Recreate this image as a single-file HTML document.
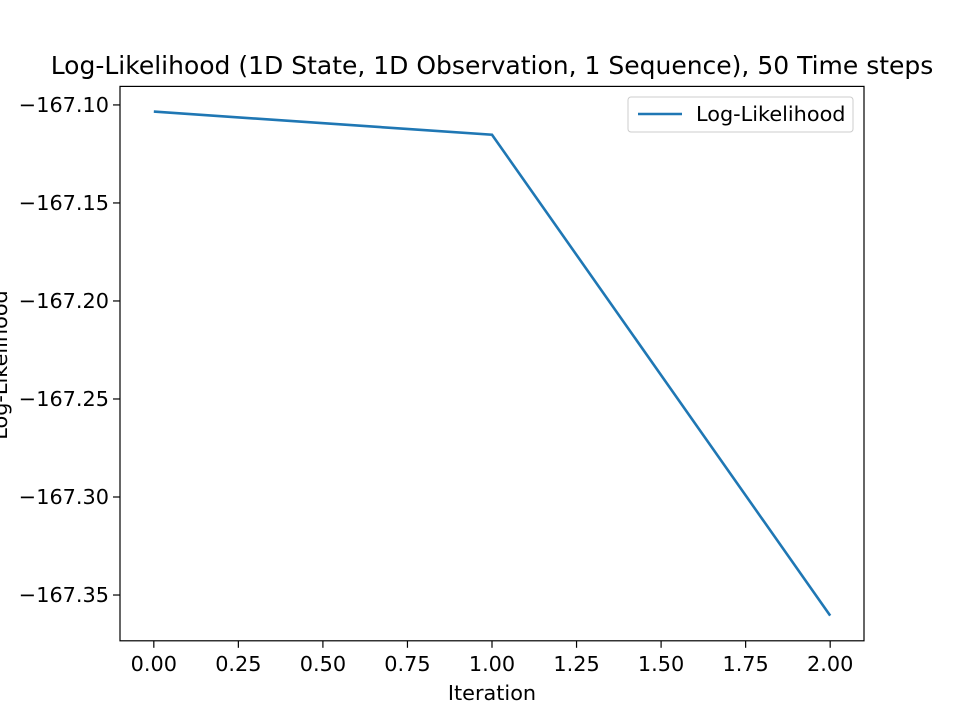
<!DOCTYPE html>
<html><head><meta charset="utf-8"><style>
body{margin:0;background:#fff}
svg{display:block;font-family:"DejaVu Sans","Liberation Sans",sans-serif}
</style></head><body>
<svg id="chart" width="960" height="720">
<rect width="960" height="720" fill="#fff"/>
<text x="492" y="74" font-size="25" text-anchor="middle">Log-Likelihood (1D State, 1D Observation, 1 Sequence), 50 Time steps</text>
<text transform="translate(7,365) rotate(-90)" font-size="20.8" text-anchor="middle">Log-Likelihood</text>
<text x="492" y="700" font-size="20.8" text-anchor="middle">Iteration</text>
<g id="ticks"></g>
<path id="line" fill="none" stroke="#1f77b4" stroke-width="2.6"/>
<rect x="120" y="86.4" width="744" height="554.4" fill="none" stroke="#000" stroke-width="1.2"/>
<g>
<rect x="628" y="97" width="225" height="35" rx="3" fill="#fff" fill-opacity="0.8" stroke="#ccc"/>
<line x1="638" y1="114" x2="682" y2="114" stroke="#1f77b4" stroke-width="2.6"/>
<text x="696" y="121" font-size="20.8">Log-Likelihood</text>
</g>
</svg>
<script>
const iterations = [0, 1, 2];
const logLik = [-167.1034, -167.1152, -167.3605];
const xTicks = [0, 0.25, 0.5, 0.75, 1.0, 1.25, 1.5, 1.75, 2.0];
const yTicks = [-167.10, -167.15, -167.20, -167.25, -167.30, -167.35];

const L=120,R=864,T=86.4,B=640.8;
const xmin=Math.min(...iterations),xmax=Math.max(...iterations),xm=(xmax-xmin)*0.05;
const ymin=Math.min(...logLik),ymax=Math.max(...logLik),ym=(ymax-ymin)*0.05;
const x=v=>L+(v-(xmin-xm))/((xmax+xm)-(xmin-xm))*(R-L);
const y=v=>B-(v-(ymin-ym))/((ymax+ym)-(ymin-ym))*(B-T);
const NS="http://www.w3.org/2000/svg";
const g=document.getElementById('ticks');
function mk(tag,attrs,txt){const e=document.createElementNS(NS,tag);for(const k in attrs)e.setAttribute(k,attrs[k]);if(txt!==undefined)e.textContent=txt;g.appendChild(e);return e;}
xTicks.forEach(t=>{
  const l=mk('line',{x1:x(t),x2:x(t),y1:B,y2:B+7,stroke:'#000','stroke-width':1.2});
  
  
  const s=mk('text',{x:x(t),y:B+30,'font-size':20.8,'text-anchor':'middle'},t.toFixed(2));
  
  
});
yTicks.forEach(t=>{
  const l=mk('line',{x1:L-7,x2:L,y1:y(t),y2:y(t),stroke:'#000','stroke-width':1.2});
  
  
  const s=mk('text',{x:L-11,y:y(t)+7,'font-size':20.8,'text-anchor':'end'},'\u2212'+Math.abs(t).toFixed(2));
  
  
});
document.getElementById('line').setAttribute('d',iterations.map((v,i)=>(i?'L':'M')+x(v)+','+y(logLik[i])).join(' '));
</script>
</body></html>
